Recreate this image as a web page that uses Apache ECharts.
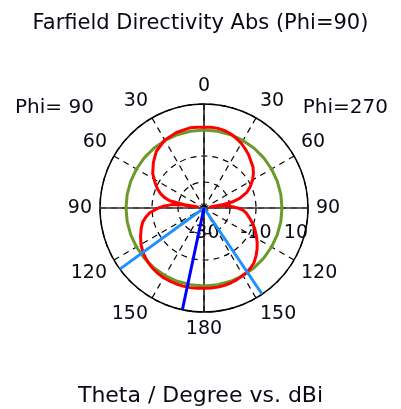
<!DOCTYPE html>
<html><head><meta charset="utf-8">
<script src="https://cdn.jsdelivr.net/npm/echarts@6/dist/echarts.min.js"></script>
<style>html,body{margin:0;padding:0;background:#fff}#c{width:401px;height:409px}</style>
</head><body><div id="c"></div>
<script>
// Angle values: clockwise from top. 0..180 = Phi=270 side (theta), 180..360 = Phi=90 side (360 - theta)
const thetaAngles = [0,5,10,15,20,25,30,35,40,45,50,55,60,65,70,75,78,80,81,82,84,87,90,93,97,102,107,112,118,123,128,133,138,143,148,155,160,165,170,175,180,185,190,195,200,205,210,215,220,225,230,234,240,246,252,257,261,265,270,273,276,278,279,280,282,285,288,292,297,304,312,320,330,340,350,355,360];
const directivityDb = [1.1,1.2,1.1,0.8,0.3,-0.5,-1.3,-2.3,-3.3,-4.5,-5.4,-6.8,-8.4,-10.3,-12.5,-15.8,-19,-23,-28,-24,-21,-19.5,-17,-15,-13.6,-12.2,-10.6,-9.0,-7.2,-5.6,-4.1,-2.7,-1.4,-0.7,-0.2,0.3,0.6,0.8,0.9,0.9,0.9,1.0,1.1,1.1,1.1,1.05,1.0,0.8,0.5,0.1,-0.5,-1.0,-2.0,-3.3,-4.6,-5.8,-7.3,-9.0,-12.5,-14.8,-17.5,-22,-28,-22,-16.5,-14.2,-12.5,-10.8,-8.9,-6.2,-3.8,-1.5,0.2,0.9,1.3,1.2,1.1];
const referenceAngles = [0,10,20,30,40,50,60,70,80,90,100,110,120,130,140,150,160,170,180,190,200,210,220,230,240,250,260,270,280,290,300,310,320,330,340,350,360];
const referenceLevelDb = 0;
const mainLobeAngle = 192;
const beamwidthAngles = [234, 146];
const radialMin = -30, radialMax = 10;
const titleText = 'Farfield Directivity Abs (Phi=90)';
const axisTitleText = 'Theta / Degree vs. dBi';
const leftPhiText = 'Phi= 90';
const rightPhiText = 'Phi=270';

const FONT = 'DejaVu Sans';
const chart = echarts.init(document.getElementById('c'), null, {renderer: 'canvas'});
const ctr = [204, 208], R = 104;

const redData = thetaAngles.map((a, i) => [directivityDb[i], a]);
const greenData = referenceAngles.map(a => [referenceLevelDb, a]);

chart.setOption({
  animation: false,
  backgroundColor: '#fff',
  title: [
    {text: titleText, left: 'center', top: 8, textStyle: {fontFamily: FONT, fontSize: 21, fontWeight: 'normal', color: '#0a0a14'}},
    {text: axisTitleText, left: 'center', top: 380, textStyle: {fontFamily: FONT, fontSize: 22, fontWeight: 'normal', color: '#0a0a14'}},
    {text: leftPhiText, left: 10, top: 93, textStyle: {fontFamily: FONT, fontSize: 20, fontWeight: 'normal', color: '#0a0a14'}},
    {text: rightPhiText, right: 8, top: 93, textStyle: {fontFamily: FONT, fontSize: 20, fontWeight: 'normal', color: '#0a0a14'}}
  ],
  polar: [
    {center: ctr, radius: R},
    {center: ctr, radius: R}
  ],
  angleAxis: [
    {
      polarIndex: 0, type: 'value', min: 0, max: 360, interval: 30, startAngle: 90, clockwise: true,
      axisLine: {show: true, lineStyle: {color: '#000', width: 1.5}},
      axisTick: {show: false},
      splitLine: {show: true, lineStyle: {color: '#000', width: 1.2, type: [6, 5]}},
      axisLabel: {
        margin: 8, fontFamily: FONT, fontSize: 19, color: '#0a0a14',
        formatter: v => v === 360 ? '' : String(v <= 180 ? v : 360 - v)
      }
    },
    {polarIndex: 1, type: 'value', min: 0, max: 360, startAngle: 0, show: false}
  ],
  radiusAxis: [
    {
      polarIndex: 0, type: 'value', min: radialMin, max: radialMax, interval: 10,
      axisLine: {show: false}, axisTick: {show: false}, axisLabel: {show: false},
      splitLine: {show: true, lineStyle: {color: '#000', width: 1.2, type: [6, 5]}}
    },
    {
      polarIndex: 1, type: 'value', min: radialMin, max: radialMax, interval: 20,
      axisLine: {show: false}, axisTick: {show: false}, splitLine: {show: false},
      axisLabel: {show: true, margin: -16, verticalAlign: 'top', alignMinLabel: 'center', alignMaxLabel: 'right',
        fontFamily: FONT, fontSize: 19, color: '#0a0a14'}
    }
  ],
  series: [
    {type: 'line', coordinateSystem: 'polar', polarIndex: 0, symbol: 'none', silent: true, z: 2,
     lineStyle: {color: '#111', width: 1.5}, data: [[radialMax, 0], [radialMin, 0], [radialMax, 180]]},
    {type: 'line', coordinateSystem: 'polar', polarIndex: 0, symbol: 'none', silent: true, z: 2,
     lineStyle: {color: '#333', width: 1.5}, data: [[radialMax, 90], [radialMin, 90], [radialMax, 270]]},
    {type: 'line', coordinateSystem: 'polar', polarIndex: 0, symbol: 'none', silent: true, z: 3, smooth: false,
     lineStyle: {color: '#6b9a2a', width: 3}, data: greenData},
    {type: 'line', coordinateSystem: 'polar', polarIndex: 0, symbol: 'none', silent: true, z: 4, smooth: false,
     lineStyle: {color: '#ff0000', width: 3}, data: redData},
    {type: 'line', coordinateSystem: 'polar', polarIndex: 0, symbol: 'none', silent: true, z: 5,
     lineStyle: {color: '#1e90ff', width: 3}, data: [[radialMax, beamwidthAngles[0]], [radialMin, beamwidthAngles[0]]]},
    {type: 'line', coordinateSystem: 'polar', polarIndex: 0, symbol: 'none', silent: true, z: 5,
     lineStyle: {color: '#1e90ff', width: 3}, data: [[radialMax, beamwidthAngles[1]], [radialMin, beamwidthAngles[1]]]},
    {type: 'line', coordinateSystem: 'polar', polarIndex: 0, symbol: 'none', silent: true, z: 6,
     lineStyle: {color: '#0000ff', width: 3}, data: [[radialMax, mainLobeAngle], [radialMin, mainLobeAngle]]}
  ]
});
</script></body></html>
